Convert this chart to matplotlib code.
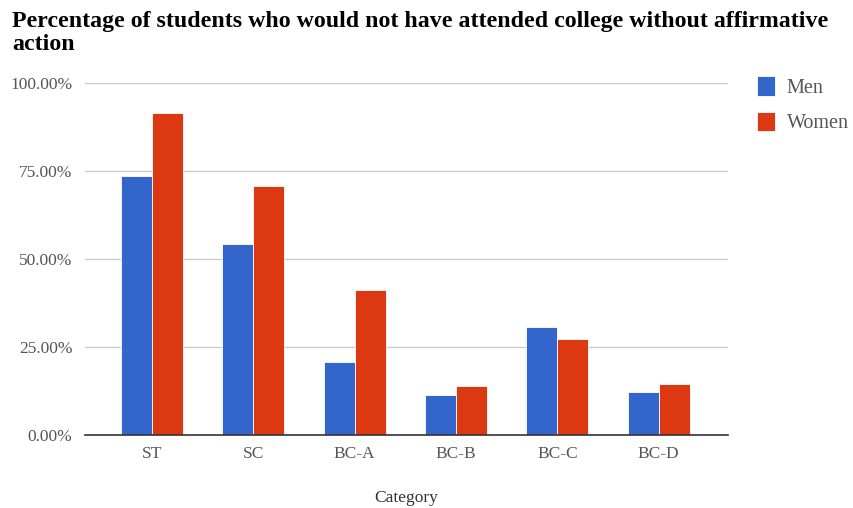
import matplotlib.pyplot as plt
import numpy as np

categories = ['ST', 'SC', 'BC-A', 'BC-B', 'BC-C', 'BC-D']
men = [73.7, 54.4, 20.8, 11.5, 30.7, 12.4]
women = [91.3, 70.8, 41.2, 14.1, 27.3, 14.6]
yticks = [0, 25, 50, 75, 100]

plt.rcParams['font.family'] = ['Liberation Serif', 'DejaVu Serif']

fig = plt.figure(figsize=(8.54, 5.08), dpi=100)
ax = fig.add_axes([0.0995, 0.143, 0.7525, 0.694])

x = np.arange(len(categories))
w = 0.305
ax.bar(x - w / 2, men, w, color='#3366CC', edgecolor='white', linewidth=0.6, label='Men', zorder=3)
ax.bar(x + w / 2, women, w, color='#DC3912', edgecolor='white', linewidth=0.6, label='Women', zorder=3)

# -- xs
ax.set_xlim(-0.66, 5.68)
ax.set_xticks(x)
ax.set_xticklabels(categories, fontsize=12.5, color='#555555')
ax.tick_params(axis='x', length=0, pad=8)
ax.set_xlabel('Category', fontsize=12.5, color='#333333', labelpad=20)

# -- ys
ax.set_ylim(0, 100)
ax.set_yticks(yticks)
ax.set_yticklabels(['%.2f%%' % v for v in yticks], fontsize=12.5, color='#555555')
ax.tick_params(axis='y', length=0, pad=9)
ax.grid(axis='y', color='#cccccc', linewidth=1, zorder=0)

for s in ['top', 'right', 'left']:
    ax.spines[s].set_visible(False)
ax.spines['bottom'].set_color('#333333')
ax.spines['bottom'].set_linewidth(1.2)
ax.spines['bottom'].set_zorder(4)

fig.text(0.014, 0.935, 'Percentage of students who would not have attended college without affirmative\naction',
         fontsize=17.2, fontweight='bold', ha='left', va='center', linespacing=1.15, color='black')

ax.legend(loc='upper left', bbox_to_anchor=(1.017, 1.07), frameon=False, fontsize=14.5,
          handlelength=0.9, handleheight=1.1, labelspacing=0.7, handletextpad=0.6,
          labelcolor='#555555')

plt.savefig('out.png')
